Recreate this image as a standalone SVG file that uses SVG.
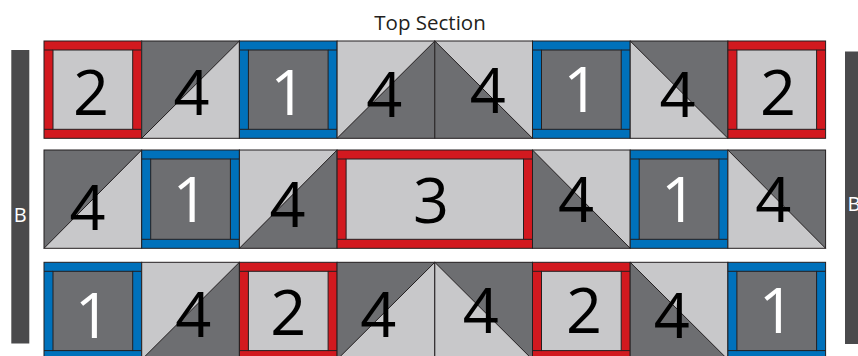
<svg xmlns="http://www.w3.org/2000/svg" width="858" height="356" viewBox="0 0 858 356">
<style>
.lt{fill:#c8c8ca}
.dk{fill:#6d6e71}
.ol{fill:none;stroke:#231f20;stroke-width:1}
.red{fill:#d2191f;stroke:#231f20;stroke-width:1}
.blue{fill:#0071bb;stroke:#231f20;stroke-width:1}
.inL{fill:#c8c8ca;stroke:#231f20;stroke-width:1}
.inD{fill:#6d6e71;stroke:#231f20;stroke-width:1}
.ln{fill:none;stroke:#231f20;stroke-width:1}
.num{font-family:"Open Sans","Noto Sans",sans-serif;font-size:63px;text-anchor:middle}
.blk{fill:#000}
.wht{fill:#fff}
.bar{fill:#4a4a4c}
.lbl{font-family:"Open Sans","Noto Sans",sans-serif;font-size:20px;fill:#fff;text-anchor:middle}
.title{font-family:"Open Sans","Noto Sans",sans-serif;font-size:20.5px;fill:#231f20;text-anchor:middle}
</style>
<rect width="858" height="356" fill="#fff"/>
<text class="title" x="430" y="30">Top Section</text>
<g id="barLeft"><rect class="bar" x="11.3" y="50" width="18" height="293.5"/><text class="lbl" x="20.3" y="221.7">B</text></g>
<g id="barRight"><rect class="bar" x="845" y="51.5" width="18" height="292.5"/><text class="lbl" x="854" y="210.7">B</text></g>

<!-- Row 1 -->
<g id="r1c1"><rect class="red" x="44" y="41" width="97.7" height="97.3"/><rect class="inL" x="53" y="50" width="79.7" height="79.3"/><path class="ln" d="M44 50h9M132.7 50h9M44 129.3h9M132.7 129.3h9"/><text class="num blk" x="91" y="115">2</text></g>
<g id="r1c2"><rect class="lt" x="141.7" y="41" width="97.7" height="97.3"/><polygon class="dk" points="141.7,41 239.4,41 141.7,138.3"/><path class="ln" d="M141.7 138.3L239.4 41"/><rect class="ol" x="141.7" y="41" width="97.7" height="97.3"/><text class="num blk" x="191.5" y="115">4</text></g>
<g id="r1c3"><rect class="blue" x="239.4" y="41" width="97.7" height="97.3"/><rect class="inD" x="248.4" y="50" width="79.7" height="79.3"/><path class="ln" d="M239.4 50h9M328.1 50h9M239.4 129.3h9M328.1 129.3h9"/><text class="num wht" x="288.2" y="115">1</text></g>
<g id="r1c4"><rect class="lt" x="337.1" y="41" width="97.7" height="97.3"/><polygon class="dk" points="434.8,41 434.8,138.3 337.1,138.3"/><path class="ln" d="M337.1 138.3L434.8 41"/><rect class="ol" x="337.1" y="41" width="97.7" height="97.3"/><text class="num blk" x="384.3" y="117">4</text></g>
<g id="r1c5"><rect class="lt" x="434.8" y="41" width="97.7" height="97.3"/><polygon class="dk" points="434.8,41 532.5,138.3 434.8,138.3"/><path class="ln" d="M434.8 41L532.5 138.3"/><rect class="ol" x="434.8" y="41" width="97.7" height="97.3"/><text class="num blk" x="487.8" y="113">4</text></g>
<g id="r1c6"><rect class="blue" x="532.5" y="41" width="97.7" height="97.3"/><rect class="inD" x="541.5" y="50" width="79.7" height="79.3"/><path class="ln" d="M532.5 50h9M621.2 50h9M532.5 129.3h9M621.2 129.3h9"/><text class="num wht" x="581.3" y="112">1</text></g>
<g id="r1c7"><rect class="lt" x="630.2" y="41" width="97.7" height="97.3"/><polygon class="dk" points="630.2,41 727.9,41 727.9,138.3"/><path class="ln" d="M630.2 41L727.9 138.3"/><rect class="ol" x="630.2" y="41" width="97.7" height="97.3"/><text class="num blk" x="677.5" y="117">4</text></g>
<g id="r1c8"><rect class="red" x="727.9" y="41" width="97.7" height="97.3"/><rect class="inL" x="736.9" y="50" width="79.7" height="79.3"/><path class="ln" d="M727.9 50h9M816.6 50h9M727.9 129.3h9M816.6 129.3h9"/><text class="num blk" x="778" y="115">2</text></g>

<!-- Row 2 -->
<g id="r2c1"><rect class="lt" x="44" y="150" width="97.7" height="98.3"/><polygon class="dk" points="44,150 141.7,150 44,248.3"/><path class="ln" d="M44 248.3L141.7 150"/><rect class="ol" x="44" y="150" width="97.7" height="98.3"/><text class="num blk" x="87.5" y="230">4</text></g>
<g id="r2c2"><rect class="blue" x="141.7" y="150" width="97.7" height="98.3"/><rect class="inD" x="150.7" y="159" width="79.7" height="80.3"/><path class="ln" d="M141.7 159h9M230.4 159h9M141.7 239.3h9M230.4 239.3h9"/><text class="num wht" x="190.5" y="221.7">1</text></g>
<g id="r2c3"><rect class="lt" x="239.4" y="150" width="97.7" height="98.3"/><polygon class="dk" points="337.1,150 337.1,248.3 239.4,248.3"/><path class="ln" d="M239.4 248.3L337.1 150"/><rect class="ol" x="239.4" y="150" width="97.7" height="98.3"/><text class="num blk" x="287.4" y="227">4</text></g>
<g id="r2c4"><rect class="red" x="337.1" y="150" width="195.4" height="98.3"/><rect class="inL" x="346.1" y="159" width="177.4" height="80.3"/><path class="ln" d="M337.1 159h9M523.5 159h9M337.1 239.3h9M523.5 239.3h9"/><text class="num blk" x="431" y="222.7">3</text></g>
<g id="r2c6"><rect class="lt" x="532.5" y="150" width="97.7" height="98.3"/><polygon class="dk" points="532.5,150 630.2,248.3 532.5,248.3"/><path class="ln" d="M532.5 150L630.2 248.3"/><rect class="ol" x="532.5" y="150" width="97.7" height="98.3"/><text class="num blk" x="576" y="221.7">4</text></g>
<g id="r2c7"><rect class="blue" x="630.2" y="150" width="97.7" height="98.3"/><rect class="inD" x="639.2" y="159" width="79.7" height="80.3"/><path class="ln" d="M630.2 159h9M718.9 159h9M630.2 239.3h9M718.9 239.3h9"/><text class="num wht" x="679" y="221.7">1</text></g>
<g id="r2c8"><rect class="lt" x="727.9" y="150" width="97.7" height="98.3"/><polygon class="dk" points="727.9,150 825.6,150 825.6,248.3"/><path class="ln" d="M727.9 150L825.6 248.3"/><rect class="ol" x="727.9" y="150" width="97.7" height="98.3"/><text class="num blk" x="773.3" y="221.7">4</text></g>

<!-- Row 3 -->
<g id="r3c1"><rect class="blue" x="44" y="262.3" width="97.7" height="97.3"/><rect class="inD" x="53" y="271.3" width="79.7" height="79.3"/><path class="ln" d="M44 271.3h9M132.7 271.3h9M44 350.6h9M132.7 350.6h9"/><text class="num wht" x="92.8" y="338.3">1</text></g>
<g id="r3c2"><rect class="lt" x="141.7" y="262.3" width="97.7" height="97.3"/><polygon class="dk" points="239.4,262.3 239.4,359.6 141.7,359.6"/><path class="ln" d="M141.7 359.6L239.4 262.3"/><rect class="ol" x="141.7" y="262.3" width="97.7" height="97.3"/><text class="num blk" x="193.3" y="337.3">4</text></g>
<g id="r3c3"><rect class="red" x="239.4" y="262.3" width="97.7" height="97.3"/><rect class="inL" x="248.4" y="271.3" width="79.7" height="79.3"/><path class="ln" d="M239.4 271.3h9M328.1 271.3h9M239.4 350.6h9M328.1 350.6h9"/><text class="num blk" x="288.2" y="335">2</text></g>
<g id="r3c4"><rect class="lt" x="337.1" y="262.3" width="97.7" height="97.3"/><polygon class="dk" points="337.1,262.3 434.8,262.3 337.1,359.6"/><path class="ln" d="M337.1 359.6L434.8 262.3"/><rect class="ol" x="337.1" y="262.3" width="97.7" height="97.3"/><text class="num blk" x="378.3" y="336.7">4</text></g>
<g id="r3c5"><rect class="lt" x="434.8" y="262.3" width="97.7" height="97.3"/><polygon class="dk" points="434.8,262.3 532.5,262.3 532.5,359.6"/><path class="ln" d="M434.8 262.3L532.5 359.6"/><rect class="ol" x="434.8" y="262.3" width="97.7" height="97.3"/><text class="num blk" x="480.7" y="333">4</text></g>
<g id="r3c6"><rect class="red" x="532.5" y="262.3" width="97.7" height="97.3"/><rect class="inL" x="541.5" y="271.3" width="79.7" height="79.3"/><path class="ln" d="M532.5 271.3h9M621.2 271.3h9M532.5 350.6h9M621.2 350.6h9"/><text class="num blk" x="584" y="333.3">2</text></g>
<g id="r3c7"><rect class="lt" x="630.2" y="262.3" width="97.7" height="97.3"/><polygon class="dk" points="630.2,262.3 727.9,359.6 630.2,359.6"/><path class="ln" d="M630.2 262.3L727.9 359.6"/><rect class="ol" x="630.2" y="262.3" width="97.7" height="97.3"/><text class="num blk" x="671.7" y="338.3">4</text></g>
<g id="r3c8"><rect class="blue" x="727.9" y="262.3" width="97.7" height="97.3"/><rect class="inD" x="736.9" y="271.3" width="79.7" height="79.3"/><path class="ln" d="M727.9 271.3h9M816.6 271.3h9M727.9 350.6h9M816.6 350.6h9"/><text class="num wht" x="776.7" y="333.3">1</text></g>
<g id="connectors"/>
</svg>
